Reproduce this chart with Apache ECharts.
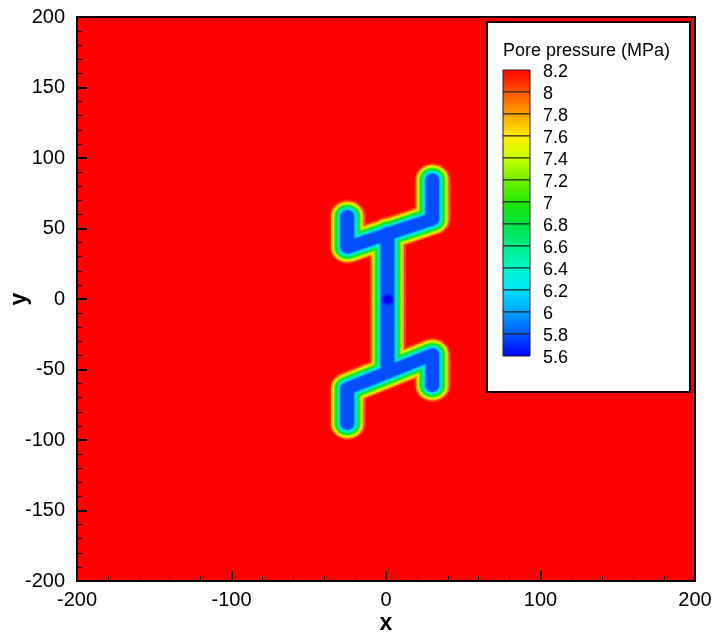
<!DOCTYPE html>
<html>
<head>
<meta charset="utf-8">
<script src="https://cdn.jsdelivr.net/npm/echarts@6/dist/echarts.min.js"></script>
<style>
  html, body { margin: 0; padding: 0; background: #ffffff; }
  #chart { width: 717px; height: 641px; }
</style>
</head>
<body>
<div id="chart"></div>
<script>
// Fracture traces, [x1, y1, x2, y2] in m
const fractureSegments = [
  [-25, 37, 30, 57],    // upper diagonal
  [-25, 37, -25, 59],   // upper-left wing
  [30, 57, 30, 85],     // upper-right wing
  [1, 47, 1, -51],      // central stem
  [-25, -63, 30, -39],  // lower diagonal
  [30, -39, 30, -61],   // lower-right wing
  [-25, -63, -25, -88]  // lower-left wing
];
// Production well on the stem
const wellPoint = [1, 0];

// Pressure profile across a fracture (MPa / m)
const farFieldPressure = 8.2;
const fracturePressure = 5.78;
const wellPressure = 5.6;
const wellRadius = 2.2;
const coreHalfWidth = 3.9;
const diffusionWidth = 11.5;

// Contour levels and their colours (low to high)
const levels = [5.6, 5.8, 6.0, 6.2, 6.4, 6.6, 6.8, 7.0, 7.2, 7.4, 7.6, 7.8, 8.0, 8.2];
const levelColors = [
  '#0000ff', '#0058ff', '#00a4ff', '#00e4ff', '#00f8c8', '#00ec88', '#00e444',
  '#22e800', '#74f000', '#c8ff00', '#ffee00', '#ffa000', '#ff5400', '#ff0000'
];
const levelLabels = ['5.6', '5.8', '6', '6.2', '6.4', '6.6', '6.8', '7', '7.2', '7.4', '7.6', '7.8', '8', '8.2'];

// Axes
const xTicks = [-200, -100, 0, 100, 200];
const yTicks = [-200, -150, -100, -50, 0, 50, 100, 150, 200];

// Sampling window around the fracture network
const cellSize = 1;
const sampleX = [-50, 55];
const sampleY = [-112, 108];

function segmentDistance(px, py, s) {
  const dx = s[2] - s[0], dy = s[3] - s[1];
  const len2 = dx * dx + dy * dy;
  let t = len2 > 0 ? ((px - s[0]) * dx + (py - s[1]) * dy) / len2 : 0;
  t = Math.max(0, Math.min(1, t));
  const qx = s[0] + t * dx - px, qy = s[1] + t * dy - py;
  return Math.sqrt(qx * qx + qy * qy);
}

function pressureAt(px, py) {
  let d = Infinity;
  for (const s of fractureSegments) d = Math.min(d, segmentDistance(px, py, s));
  let p;
  if (d <= coreHalfWidth) {
    p = fracturePressure;
  } else {
    const t = Math.min(1, (d - coreHalfWidth) / (diffusionWidth - coreHalfWidth));
    p = fracturePressure + (farFieldPressure - fracturePressure) * t;
  }
  const dw = Math.hypot(px - wellPoint[0], py - wellPoint[1]);
  if (dw < wellRadius * 2) {
    const w = Math.max(0, 1 - Math.max(0, dw - wellRadius) / wellRadius);
    p = p + (wellPressure - p) * w;
  }
  return p;
}

const cells = [];
for (let x = sampleX[0]; x <= sampleX[1]; x += cellSize) {
  for (let y = sampleY[0]; y <= sampleY[1]; y += cellSize) {
    const p = pressureAt(x, y);
    if (p < farFieldPressure - 0.02) cells.push([x, y, p]);
  }
}

const chart = echarts.init(document.getElementById('chart'), null, { renderer: 'canvas' });
const font = '"Liberation Sans", Arial, sans-serif';

// Grid placement
const G = { left: 77, top: 17, width: 618, height: 564 };

// Colour legend box
const legendBox = { x: 487, y: 22, w: 203, h: 370 };
const bar = { x: 503, y: 70, w: 27, band: 22 };
const graphics = [];
graphics.push({
  type: 'rect', z: 100,
  shape: { x: legendBox.x, y: legendBox.y, width: legendBox.w, height: legendBox.h },
  style: { fill: '#ffffff', stroke: '#1a0000', lineWidth: 2 }
});
graphics.push({
  type: 'text', z: 101, x: bar.x, y: 51,
  style: { text: 'Pore pressure (MPa)', font: '18px ' + font, fill: '#000', verticalAlign: 'middle' }
});
const nBands = levels.length - 1;
for (let i = 0; i < nBands; i++) {
  const hi = nBands - i, lo = hi - 1;
  graphics.push({
    type: 'rect', z: 101,
    shape: { x: bar.x, y: bar.y + i * bar.band, width: bar.w, height: bar.band },
    style: {
      fill: {
        type: 'linear', x: 0, y: 0, x2: 0, y2: 1,
        colorStops: [{ offset: 0, color: levelColors[hi] }, { offset: 1, color: levelColors[lo] }]
      },
      stroke: '#202020', lineWidth: 1
    }
  });
}
for (let i = 0; i < levels.length; i++) {
  const k = levels.length - 1 - i;
  graphics.push({
    type: 'text', z: 101, x: bar.x + 40, y: bar.y + i * bar.band + 2,
    style: { text: levelLabels[k], font: '18px ' + font, fill: '#000', verticalAlign: 'middle' }
  });
}

const axisCommon = {
  type: 'value',
  min: -200, max: 200,
  axisLine: { show: true, onZero: false, lineStyle: { color: '#000', width: 2 } },
  axisTick: { show: true, inside: true, length: 10, lineStyle: { color: '#000', width: 2 } },
  minorTick: { show: true, splitNumber: 5, length: 5, lineStyle: { color: '#000', width: 1 } },
  splitLine: { show: false },
  nameLocation: 'middle',
  nameMoveOverlap: false,
  nameTextStyle: { fontFamily: font, fontSize: 23, fontWeight: 'bold', color: '#000' }
};

chart.setOption({
  animation: false,
  backgroundColor: '#ffffff',
  grid: {
    left: G.left, top: G.top, width: G.width, height: G.height,
    containLabel: false, outerBoundsMode: 'none',
    show: true, backgroundColor: '#ff0000', borderColor: '#000', borderWidth: 2
  },
  xAxis: Object.assign({}, axisCommon, {
    interval: xTicks[1] - xTicks[0],
    name: 'x', nameGap: 31,
    axisLabel: { fontFamily: font, fontSize: 20, color: '#000', margin: 9 }
  }),
  yAxis: Object.assign({}, axisCommon, {
    interval: yTicks[1] - yTicks[0],
    name: 'y', nameGap: 46,
    axisLabel: { fontFamily: font, fontSize: 20, color: '#000', margin: 12 }
  }),
  visualMap: {
    type: 'continuous', show: false,
    min: levels[0], max: levels[levels.length - 1],
    dimension: 2, seriesIndex: 0,
    inRange: { color: levelColors }
  },
  series: [{
    type: 'custom',
    coordinateSystem: 'cartesian2d',
    data: cells,
    encode: { x: 0, y: 1 },
    clip: true,
    progressive: 0,
    silent: true,
    renderItem: function (params, api) {
      const x = api.value(0), y = api.value(1), h = cellSize / 2;
      const a = api.coord([x - h, y + h]);
      const b = api.coord([x + h, y - h]);
      return {
        type: 'rect',
        shape: { x: a[0], y: a[1], width: b[0] - a[0] + 0.6, height: b[1] - a[1] + 0.6 },
        style: { fill: api.visual('color') }
      };
    }
  }],
  graphic: graphics
});
</script>
</body>
</html>
